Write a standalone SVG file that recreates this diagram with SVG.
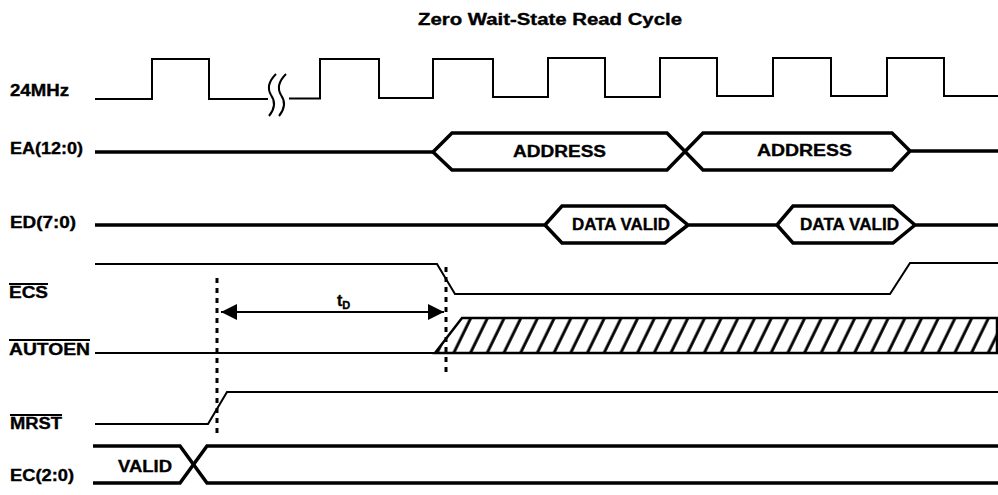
<svg xmlns="http://www.w3.org/2000/svg" width="998" height="495" viewBox="0 0 998 495">
<style>
text{font-family:"Liberation Sans",Arial,sans-serif;font-weight:bold;fill:#000;stroke:#000;stroke-width:0.35}
.lbl{font-size:16px}
.w{fill:none;stroke:#000;stroke-linejoin:miter;stroke-linecap:butt}
.thin{stroke-width:2}
.bus{stroke-width:3.5}
.dash{stroke:#000;stroke-width:3;stroke-dasharray:5 5;fill:none}
.ol{stroke:#000;stroke-width:2}
</style>
<defs>
<pattern id="hatch" patternUnits="userSpaceOnUse" width="16.7" height="40" patternTransform="skewX(-26)">
<rect x="0" y="0" width="16.7" height="40" fill="#fff"/>
<line x1="8" y1="-2" x2="8" y2="42" stroke="#000" stroke-width="3.2"/>
</pattern>
<marker id="ah" viewBox="0 0 16 16" refX="16" refY="8" markerWidth="16" markerHeight="16" markerUnits="userSpaceOnUse" orient="auto-start-reverse">
<path d="M0 0 L16 8 L0 16 Z" fill="#000"/>
</marker>
</defs>
<rect width="998" height="495" fill="#fff"/>
<text id="title" x="418" y="25" font-size="16" textLength="264" lengthAdjust="spacingAndGlyphs">Zero Wait-State Read Cycle</text>

<g id="clk">
<text class="lbl" x="10" y="96" font-size="15" textLength="59" lengthAdjust="spacingAndGlyphs">24MHz</text>
<path class="w thin" d="M95 99 H152 V59 H209 V99 H268"/>
<path class="w thin" d="M289 98.5 H320 V59 H379 V98 H433 V59 H493 V97 H548 V58 H605 V97 H660 V58 H717 V96 H773 V58 H831 V96 H887 V58 H944 V96 H998"/>
<path class="w thin" d="M276 74 Q265 85 271 95 Q278 105 269 116"/>
<path class="w thin" d="M286 74 Q275 85 281 95 Q288 105 279 116"/>
</g>

<g id="ea">
<text class="lbl" x="10" y="154" textLength="73" lengthAdjust="spacingAndGlyphs">EA(12:0)</text>
<path class="w bus" d="M95 152 H433 L452 133 H667 L703 170 H892 L910 151 H998"/>
<path class="w bus" d="M433 152 L452 170 H667 L703 133 H892 L910 151"/>
<text class="lbl" x="513" y="157" textLength="93" lengthAdjust="spacingAndGlyphs">ADDRESS</text>
<text class="lbl" x="757" y="156" textLength="95" lengthAdjust="spacingAndGlyphs">ADDRESS</text>
</g>

<g id="ed">
<text class="lbl" x="10" y="228" textLength="66" lengthAdjust="spacingAndGlyphs">ED(7:0)</text>
<path class="w bus" d="M95 225 H545 L562 206 H665 L688 225 H777 L793 206 H893 L915 225 H998"/>
<path class="w bus" d="M545 225 L562 243 H665 L688 225 M777 225 L793 243 H893 L915 225"/>
<text class="lbl" x="572" y="230" font-size="15" textLength="98" lengthAdjust="spacingAndGlyphs">DATA VALID</text>
<text class="lbl" x="800" y="230" font-size="15" textLength="99" lengthAdjust="spacingAndGlyphs">DATA VALID</text>
</g>

<g id="ecs">
<text class="lbl" x="9" y="298" textLength="39" lengthAdjust="spacingAndGlyphs">ECS</text>
<line class="ol" x1="9" y1="284" x2="48" y2="284"/>
<path class="w thin" d="M95 264 H437 L455 294 H890 L910 263 H998"/>
</g>

<g id="autoen">
<text class="lbl" x="9" y="355" textLength="81" lengthAdjust="spacingAndGlyphs">AUTOEN</text>
<line class="ol" x1="9" y1="340" x2="90" y2="340"/>
<path class="w thin" d="M95 353 H435"/>
<path d="M435 353 L462 318 H997 V353 Z" fill="url(#hatch)" stroke="#000" stroke-width="2.5"/>
</g>

<g id="mrst">
<text class="lbl" x="10" y="429" textLength="52" lengthAdjust="spacingAndGlyphs">MRST</text>
<line class="ol" x1="10" y1="415" x2="62" y2="415"/>
<path class="w thin" d="M95 424 H208 L227 392 H998"/>
</g>

<g id="ec">
<text class="lbl" x="10" y="481" textLength="64" lengthAdjust="spacingAndGlyphs">EC(2:0)</text>
<path class="w bus" d="M93 446 H180 L207 483 H998"/>
<path class="w bus" d="M93 483 H180 L207 446 H998"/>
<text class="lbl" x="118" y="472" textLength="54" lengthAdjust="spacingAndGlyphs">VALID</text>
</g>

<g id="connectors">
<line class="dash" x1="217" y1="278" x2="217" y2="433"/>
<line class="dash" x1="446" y1="267" x2="446" y2="377"/>
<line x1="221" y1="312" x2="444" y2="312" stroke="#000" stroke-width="2" marker-start="url(#ah)" marker-end="url(#ah)"/>
<text x="337" y="306" font-size="16">t<tspan font-size="11" dy="3">D</tspan></text>
</g>
</svg>
